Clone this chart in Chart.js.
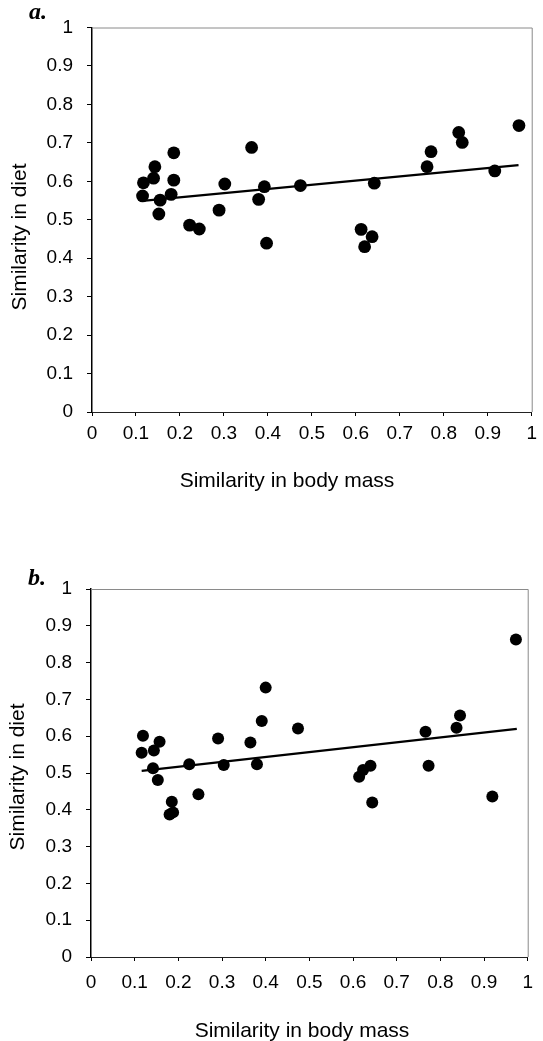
<!DOCTYPE html>
<html>
<head>
<meta charset="utf-8">
<script src="https://cdn.jsdelivr.net/npm/chart.js@4.4.1/dist/chart.umd.min.js"></script>
<style>
  body { margin: 0; background: #fff; width: 543px; height: 1041px; overflow: hidden; }
  canvas { position: absolute; left: 0; }
  #chartA { top: 0; }
  #chartB { top: 520px; }
</style>
</head>
<body>
<canvas id="chartA" width="543" height="500"></canvas>
<canvas id="chartB" width="543" height="521"></canvas>
<script>
const tickLabels = ['0', '0.1', '0.2', '0.3', '0.4', '0.5', '0.6', '0.7', '0.8', '0.9', '1']

// panel a
const massA = [0.115, 0.117, 0.140, 0.143, 0.152, 0.155, 0.180, 0.186, 0.186, 0.222, 0.244, 0.289, 0.302, 0.363,
               0.379, 0.392, 0.397, 0.474, 0.612, 0.620, 0.637, 0.642, 0.762, 0.771, 0.834, 0.842, 0.916, 0.971]
const dietA = [0.562, 0.596, 0.608, 0.638, 0.515, 0.551, 0.566, 0.603, 0.674, 0.486, 0.476, 0.525, 0.593, 0.688,
               0.553, 0.586, 0.439, 0.589, 0.475, 0.430, 0.456, 0.595, 0.638, 0.677, 0.727, 0.701, 0.627, 0.745]
const trendMassA = [0.115, 0.97]
const trendDietA = [0.549, 0.642]

// panel b
const massB = [0.116, 0.119, 0.142, 0.144, 0.153, 0.157, 0.180, 0.185, 0.188, 0.225, 0.246, 0.291, 0.304, 0.365,
               0.380, 0.391, 0.400, 0.474, 0.614, 0.623, 0.640, 0.644, 0.766, 0.773, 0.837, 0.845, 0.919, 0.973]
const dietB = [0.555, 0.601, 0.513, 0.561, 0.481, 0.585, 0.387, 0.422, 0.393, 0.524, 0.442, 0.594, 0.522, 0.583,
               0.524, 0.641, 0.732, 0.621, 0.490, 0.508, 0.520, 0.420, 0.612, 0.520, 0.623, 0.656, 0.436, 0.863]
const trendMassB = [0.116, 0.975]
const trendDietB = [0.506, 0.620]

const xTitle = 'Similarity in body mass'
const yTitle = 'Similarity in diet'

function toPoints(xs, ys) {
    return xs.map((x, i) => ({ x: x, y: ys[i] }))
}

// letter, axis titles and the grey frame
const panelText = {
    id: 'panelText',
    afterDraw(chart, args, o) {
        const ctx = chart.ctx
        const area = chart.chartArea
        ctx.save()
        ctx.strokeStyle = '#8a8a8a'
        ctx.lineWidth = 1
        ctx.beginPath()
        ctx.moveTo(area.left, area.top + 0.5)
        ctx.lineTo(area.right + 0.5, area.top + 0.5)
        ctx.lineTo(area.right + 0.5, area.bottom)
        ctx.stroke()

        ctx.fillStyle = '#000'
        ctx.font = 'italic bold 24px "Liberation Serif"'
        ctx.textAlign = 'left'
        ctx.textBaseline = 'alphabetic'
        ctx.fillText(o.letter, o.letterX, o.letterY)

        ctx.font = '21px "Liberation Sans"'
        ctx.textAlign = 'center'
        ctx.fillText(xTitle, o.xTitleX, o.xTitleY)

        ctx.translate(o.yTitleX, o.yTitleY)
        ctx.rotate(-Math.PI / 2)
        ctx.fillText(yTitle, 0, 0)
        ctx.restore()
    }
}

function makeChart(canvas, xs, ys, tx, ty, cfg) {
    const tickFont = { family: 'Liberation Sans', size: 19 }
    return new Chart(canvas, {
        type: 'scatter',
        data: {
            datasets: [{
                data: toPoints(xs, ys),
                pointRadius: cfg.radius,
                pointHoverRadius: cfg.radius,
                pointBackgroundColor: '#000',
                pointBorderWidth: 0,
                order: 2
            }, {
                data: toPoints(tx, ty),
                showLine: true,
                borderColor: '#000',
                borderWidth: 2.3,
                pointRadius: 0,
                order: 1
            }]
        },
        plugins: [panelText],
        options: {
            responsive: false,
            animation: false,
            events: [],
            layout: { padding: { top: cfg.top, right: 4, left: 0, bottom: 0 } },
            plugins: {
                legend: { display: false },
                tooltip: { enabled: false },
                panelText: cfg.text
            },
            scales: {
                x: {
                    type: 'linear',
                    min: 0,
                    max: 1,
                    afterFit: (scale) => { scale.height = cfg.xHeight },
                    ticks: {
                        stepSize: 0.1,
                        autoSkip: false,
                        maxRotation: 0,
                        padding: cfg.xPad,
                        color: '#000',
                        font: tickFont,
                        callback: (v, i) => tickLabels[i]
                    },
                    grid: { drawOnChartArea: false, tickLength: 4, tickColor: '#000' },
                    border: { color: '#222', width: 1 }
                },
                y: {
                    type: 'linear',
                    min: 0,
                    max: 1,
                    afterFit: (scale) => { scale.width = cfg.left },
                    ticks: {
                        stepSize: 0.1,
                        padding: 14,
                        color: '#000',
                        font: tickFont,
                        callback: (v, i) => tickLabels[i]
                    },
                    grid: { drawOnChartArea: false, tickLength: 5, tickColor: '#000' },
                    border: { color: '#000', width: 1.5 }
                }
            }
        }
    })
}

makeChart(document.getElementById('chartA'), massA, dietA, trendMassA, trendDietA, {
    radius: 6.4, top: 27.5, left: 92, xHeight: 88, xPad: 6,
    text: { letter: 'a.', letterX: 29, letterY: 19, xTitleX: 287, xTitleY: 487, yTitleX: 26, yTitleY: 237 }
})

makeChart(document.getElementById('chartB'), massB, dietB, trendMassB, trendDietB, {
    radius: 6, top: 69, left: 91, xHeight: 84, xPad: 10,
    text: { letter: 'b.', letterX: 28, letterY: 65, xTitleX: 302, xTitleY: 517, yTitleX: 24, yTitleY: 257 }
})
</script>
</body>
</html>
